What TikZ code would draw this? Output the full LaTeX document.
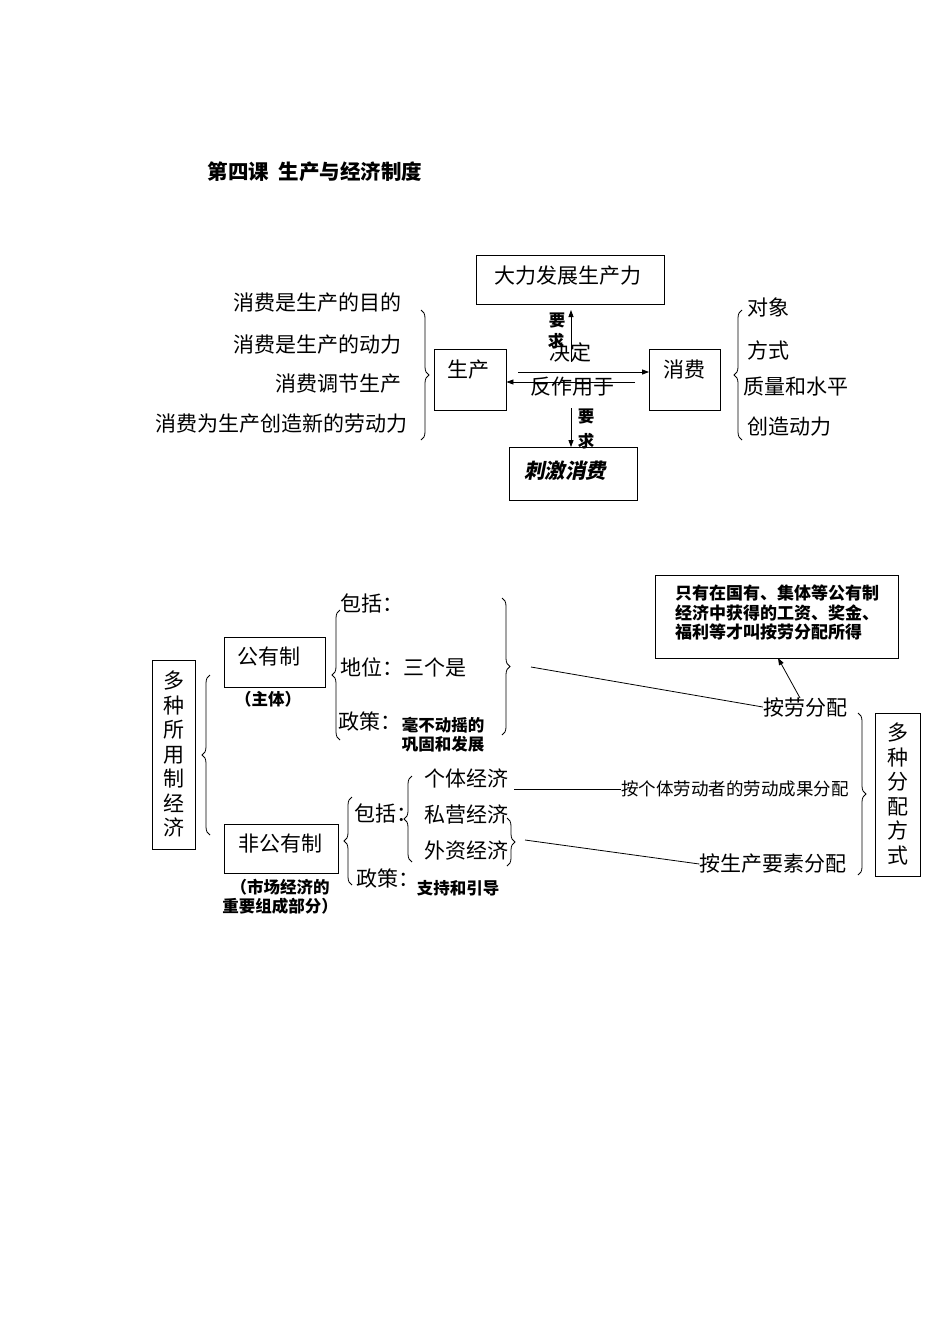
\documentclass[tikz,border=0pt]{standalone}
\usepackage{fontspec}
\setmainfont{Noto Sans CJK SC}
\usetikzlibrary{decorations.pathreplacing,arrows.meta}
\begin{document}
\begin{tikzpicture}[x=1pt,y=-1pt,
  t/.style={font=\fontsize{21}{23}\selectfont\addfontfeature{Weight=Light},inner sep=0},
  b/.style={font=\fontsize{16.5}{19}\selectfont\bfseries,inner sep=0},
  bx/.style={draw,thick,inner sep=0},
  br/.style={decorate,decoration={brace,amplitude=8pt},thick},
  ar/.style={-{Triangle[length=7pt,width=5pt]},thick}]
\useasboundingbox (0,0) rectangle (950,1344);
\node[font=\fontsize{20.5}{22}\selectfont\bfseries,inner sep=0] (title) at (315,172) {第四课\ \ 生产与经济制度};
% top
\node[bx,minimum width=188,minimum height=49] (dl) at (570,280) {};
\node[t] (dlt) at (568,276) {大力发展生产力};
\node[t,anchor=east] (l1) at (402,303) {消费是生产的目的};
\node[t,anchor=east] (l2) at (402,345) {消费是生产的动力};
\node[t,anchor=east] (l3) at (402,384) {消费调节生产};
\node[t,anchor=east] (l4) at (408,424) {消费为生产创造新的劳动力};
\draw[br] (421,310) -- (421,440);
\node[bx,minimum width=72,minimum height=61] (sc) at (470,380) {};
\node[t] at (468,370) {生产};
\node[bx,minimum width=71,minimum height=61] (xf) at (685,380) {};
\node[t] at (684,370) {消费};
\coordinate (a1) at (518,372); \coordinate (a2) at (635,382);
\draw[ar] (a1) -- (xf.west|-a1);
\draw[ar] (a2) -- (sc.east|-a2);
\node[t] (jd) at (570,352) {决定};
\node[t] (fz) at (572,387) {反作用于};
\coordinate (u0) at (571,362);
\draw[ar] (u0) -- (571,310);
\node[b] at (557,321) {要}; \node[b] at (556,341) {求};
\node[bx,minimum width=128,minimum height=53] (cj) at (573,474) {};
\draw[ar] (571,408) -- (cj.north-|571,0);
\node[b] at (586,417) {要}; \node[b] at (586,441) {求};
\node[font=\fontsize{20.5}{22}\selectfont\bfseries,inner sep=0] at (565,471) {\addfontfeature{FakeSlant=0.2}刺激消费};
\draw[br] (742,440) -- (742,310);
\node[t,anchor=west] at (747,307) {对象};
\node[t,anchor=west] at (747,350) {方式};
\node[t,anchor=west] at (743,387) {质量和水平};
\node[t,anchor=west] at (747,427) {创造动力};
% bottom
\node[bx,minimum width=43,minimum height=189] (dz) at (173.5,754.5) {};
\node[t,align=center,font=\fontsize{21}{24.5}\selectfont\addfontfeature{Weight=Light}] at (174,754) {多\\种\\所\\用\\制\\经\\济};
\draw[br] (210,835) -- (210,675);
\node[bx,minimum width=101,minimum height=50] (gy) at (274.5,662) {};
\node[t] at (269,657) {公有制};
\node[b] at (268,699) {（主体）};
\draw[br] (340,740) -- (340,610);
\node[t,anchor=west] at (340,603) {包括：};
\node[t,anchor=west] at (340,667) {地位：三个是};
\node[t,anchor=west] at (338,721) {政策：};
\node[b,align=center] at (443,735) {毫不动摇的\\巩固和发展};
\draw[br] (502,598) -- (502,735);
\coordinate (g1) at (531,667);
\node[t] (ald) at (805,707) {按劳分配};
\draw[thick] (g1) -- (ald.west);
\node[bx,minimum width=243,minimum height=83] (nt) at (776.5,616.5) {};
\node[b,align=left,font=\fontsize{17}{19.5}\selectfont\bfseries] at (777,613) {只有在国有、集体等公有制\\经济中获得的工资、奖金、\\福利等才叫按劳分配所得};
\draw[ar] (800,698) -- (778,658);
\node[bx,minimum width=45,minimum height=163] (fp) at (897.5,794.5) {};
\node[t,align=center,font=\fontsize{21}{24.5}\selectfont\addfontfeature{Weight=Light}] at (898,794) {多\\种\\分\\配\\方\\式};
\draw[br] (858,713) -- (858,875);
\node[t,font=\fontsize{17.5}{19}\selectfont\addfontfeature{Weight=Light}] (gt) at (735,789) {按个体劳动者的劳动成果分配};
\node[bx,minimum width=114,minimum height=49] (fg) at (281,848.5) {};
\node[t] at (280,844) {非公有制};
\node[b,align=center] at (280,897) {（市场经济的\\重要组成部分）};
\draw[br] (352,885) -- (352,797);
\node[t,anchor=west] at (354,813) {包括：};
\node[t,anchor=west] at (356,878) {政策：};
\node[b] at (458,888) {支持和引导};
\draw[br] (412,862) -- (412,776);
\node[t] (gt1) at (466,778) {个体经济};
\node[t] at (466,815) {私营经济};
\node[t] at (466,850) {外资经济};
\draw[thick] (514,789) -- (gt.west);
\draw[br] (507,818) -- (507,866);
\coordinate (g2) at (525,840);
\node[t] (scy) at (773,864) {按生产要素分配};
\draw[thick] (g2) -- (scy.west);
\end{tikzpicture}
\end{document}
